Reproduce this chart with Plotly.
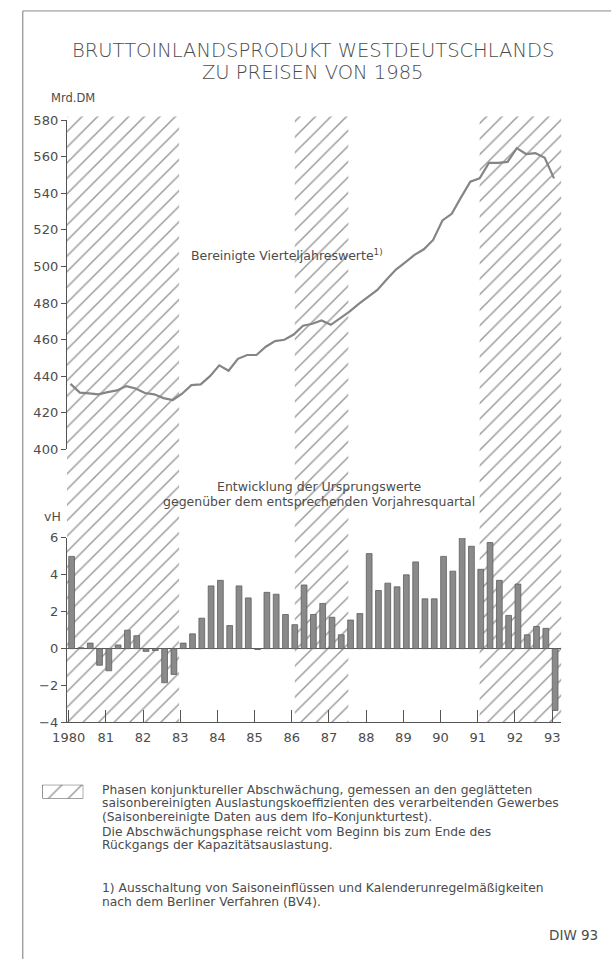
import plotly.graph_objects as go

# ---------------- data ----------------
years = list(range(1980, 1994))
year_labels = ["1980", "81", "82", "83", "84", "85", "86", "87", "88", "89", "90", "91", "92", "93"]

# Bruttoinlandsprodukt, bereinigte Vierteljahreswerte (Mrd. DM), 1980Q1 .. 1993Q1
gdp = [
    435.8, 431.0, 430.6, 430.1,
    431.3, 432.2, 434.6, 433.3,
    430.8, 430.1, 428.0, 427.0,
    430.4, 435.1, 435.5, 440.0,
    445.9, 443.0, 449.5, 451.6,
    451.6, 456.1, 459.2, 459.9,
    462.8, 467.6, 468.7, 470.5,
    468.1, 471.7, 475.3, 479.5,
    483.6, 487.2, 492.9, 498.3,
    502.3, 506.4, 509.4, 514.5,
    525.2, 528.8, 537.8, 546.4,
    548.2, 556.7, 556.7, 557.2,
    564.7, 561.5, 562.0, 559.4,
    548.2,
]

# Veraenderung gegenueber Vorjahresquartal (vH), 1980Q1 .. 1993Q1
growth = [
    5.0, 0.05, 0.3, -0.9,
    -1.2, 0.2, 1.0, 0.7,
    -0.15, -0.1, -1.85, -1.4,
    0.3, 0.8, 1.65, 3.4,
    3.7, 1.25, 3.4, 2.75,
    -0.05, 3.05, 2.95, 1.85,
    1.3, 3.45, 1.85, 2.45,
    1.7, 0.75, 1.55, 1.9,
    5.15, 3.15, 3.55, 3.35,
    4.0, 4.7, 2.7, 2.7,
    5.0, 4.2, 6.05, 5.55,
    4.3, 5.75, 3.7, 1.8,
    3.5, 0.75, 1.2, 1.1,
    -3.35,
]

# Phasen konjunktureller Abschwaechung (Beginn, Ende) in Jahren
phase_start = [1979.95, 1986.08, 1991.05]
phase_end = [1982.97, 1987.52, 1993.25]

top_ticks = [400, 420, 440, 460, 480, 500, 520, 540, 560, 580]
bar_ticks = [-4, -2, 0, 2, 4, 6]

title_lines = ["BRUTTOINLANDSPRODUKT WESTDEUTSCHLANDS", "ZU PREISEN VON 1985"]
legend_lines = [
    "Phasen konjunktureller Abschwächung, gemessen an den geglätteten",
    "saisonbereinigten Auslastungskoeffizienten des verarbeitenden Gewerbes",
    "(Saisonbereinigte Daten aus dem Ifo–Konjunkturtest).",
    "Die Abschwächungsphase reicht vom Beginn bis zum Ende des",
    "Rückgangs der Kapazitätsauslastung.",
]
footnote_lines = [
    "1) Ausschaltung von Saisoneinflüssen und Kalenderunregelmäßigkeiten",
    "nach dem Berliner Verfahren (BV4).",
]

# ---------------- layout helpers ----------------
W, H = 611, 967
FONT = "DejaVu Sans"
TXT = "#4c4c4c"
AX = "#555555"


def px(x):
    return x / W


def py(y):
    return 1 - y / H


n = len(gdp)
x_line = [1980 + i / 4 + 0.05 for i in range(n)]
x_bar = [1980 + i / 4 + 0.08 for i in range(len(growth))]

fig = go.Figure()

# hatched phases (full height, drawn first)
fig.add_trace(go.Bar(
    x=[(a + b) / 2 for a, b in zip(phase_start, phase_end)],
    y=[1] * len(phase_start),
    width=[b - a for a, b in zip(phase_start, phase_end)],
    base=0,
    xaxis="x", yaxis="y",
    marker=dict(color="rgba(0,0,0,0)", line=dict(width=0),
                pattern=dict(shape="/", fgcolor="#333333", size=11, solidity=0.13,
                             fillmode="overlay")),
    hoverinfo="skip", showlegend=False,
))

# GDP line
fig.add_trace(go.Scatter(
    x=x_line, y=gdp, xaxis="x", yaxis="y2", mode="lines",
    line=dict(color="#858585", width=2.2), showlegend=False,
))

# growth bars
fig.add_trace(go.Bar(
    x=x_bar, y=growth, width=0.155, xaxis="x", yaxis="y3",
    marker=dict(color="#8a8a8a", line=dict(color="#5e5e5e", width=0.8)),
    showlegend=False,
))

# legend symbol (hatched box)
fig.add_trace(go.Bar(
    x=[0.5], y=[1], width=[1], base=0, xaxis="x2", yaxis="y4",
    marker=dict(color="rgba(0,0,0,0)", line=dict(color="#444", width=1),
                pattern=dict(shape="/", fgcolor="#333", size=14, solidity=0.1,
                             fillmode="overlay")),
    hoverinfo="skip", showlegend=False,
))

x0_px, x1_px = 53.1, 560.2
fig.update_layout(
    width=W, height=H,
    margin=dict(l=0, r=0, t=0, b=0),
    paper_bgcolor="white", plot_bgcolor="rgba(0,0,0,0)",
    barmode="overlay",
    font=dict(family=FONT, color=TXT, size=13),
    xaxis=dict(
        domain=[px(x0_px), px(x1_px)], range=[1979.95, 1993.25], anchor="y3",
        tickmode="array", tickvals=years, ticktext=year_labels,
        ticks="inside", ticklen=12, tickcolor=AX, tickwidth=1,
        showline=True, linecolor=AX, linewidth=1,
        showgrid=False, zeroline=False,
        tickfont=dict(size=13, color=TXT), ticklabelstandoff=3,
    ),
    yaxis=dict(
        domain=[py(727), py(111)], range=[0, 1], visible=False, fixedrange=True,
    ),
    yaxis2=dict(
        domain=[py(449.3), py(115)], range=[400, 580], anchor="x",
        tickmode="array", tickvals=top_ticks,
        ticks="outside", ticklen=5, tickcolor=AX,
        showline=True, linecolor=AX, linewidth=1,
        showgrid=False, zeroline=False,
        tickfont=dict(size=13, color=TXT),
    ),
    yaxis3=dict(
        domain=[py(726.7), py(539.3)], range=[-4, 6], anchor="x",
        tickmode="array", tickvals=bar_ticks,
        ticks="outside", ticklen=5, tickcolor=AX,
        showline=True, linecolor=AX, linewidth=1,
        showgrid=False, zeroline=True, zerolinecolor=AX, zerolinewidth=1,
        tickfont=dict(size=13, color=TXT),
    ),
    xaxis2=dict(domain=[px(28), px(70)], range=[0, 1], visible=False, anchor="y4"),
    yaxis4=dict(domain=[py(804), py(790)], range=[0, 1], visible=False, anchor="x2"),
)

ann = []


def text(x, y, s, size=13, xanchor="left", weight=None):
    f = dict(family=FONT, size=size, color=TXT)
    if weight:
        f["weight"] = weight
    ann.append(dict(x=px(x), y=py(y), xref="paper", yref="paper", text=s,
                    showarrow=False, xanchor=xanchor, yanchor="middle", font=f))


text(305, 44, title_lines[0], size=19.5, xanchor="center", weight=300)
text(305, 67, title_lines[1], size=19.5, xanchor="center", weight=300)
text(35, 92, "Mrd.DM", size=11.5)
text(178, 252, "Bereinigte Vierteljahreswerte<sup>1)</sup>", size=12.5)
text(312, 487, "Entwicklung der Ursprungswerte", size=12.5, xanchor="center")
text(312, 502, "gegenüber dem entsprechenden Vorjahresquartal", size=12.5, xanchor="center")
text(28, 518, "vH", size=12.5)

leg_y = [795, 809, 823, 837.5, 851.5]
for yy, s in zip(leg_y, legend_lines):
    text(87, yy, s, size=12.3)
for yy, s in zip([895, 909], footnote_lines):
    text(87, yy, s, size=12.3)
text(600, 943, "DIW 93", size=13.5, xanchor="right")

fig.update_layout(annotations=ann)

# page frame
fig.add_shape(type="line", xref="paper", yref="paper",
              x0=px(8), x1=px(8), y0=py(4), y1=0, line=dict(color="#777", width=1))
fig.add_shape(type="line", xref="paper", yref="paper",
              x0=px(8), x1=1, y0=py(4), y1=py(4), line=dict(color="#888", width=1))

# remove the browser's default page margin so the figure sits at (0, 0)
fig.write_html("out.html", config={"displayModeBar": False},
               post_script="document.body.style.margin='0px';")
